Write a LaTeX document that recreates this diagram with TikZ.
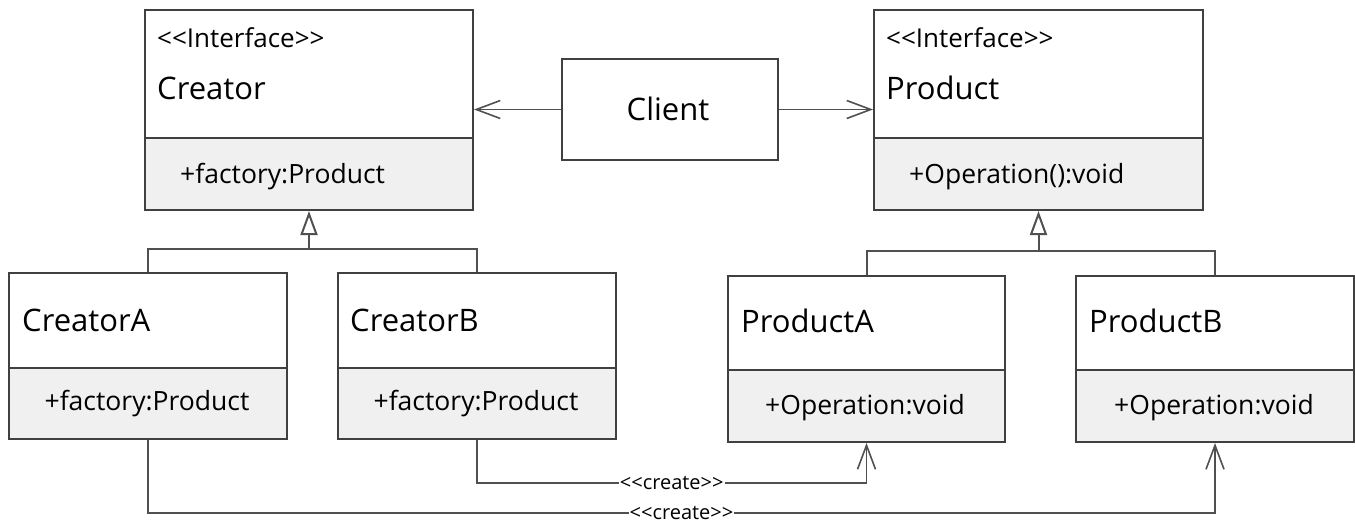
\documentclass[tikz,border=0pt]{standalone}
\usepackage{fontspec}
\setmainfont{Open Sans}
\usetikzlibrary{arrows.meta}
\definecolor{boxgray}{RGB}{64,64,64}
\definecolor{opsgray}{RGB}{240,240,240}
\definecolor{linegray}{RGB}{80,80,80}
\newcommand\stereo[1]{<\kern0pt<#1>\kern0pt>}
\tikzset{
    box/.style={draw=boxgray, line width=2pt, anchor=north west, inner sep=0pt},
    head/.style={box, fill=white},
    ops/.style={box, fill=opsgray},
    bigtxt/.style={font=\fontsize{31}{36}\selectfont, inner sep=0pt, anchor=base west},
    midtxt/.style={font=\fontsize{26.5}{30}\selectfont, inner sep=0pt, anchor=base west},
    smalltxt/.style={font=\fontsize{26}{30}\selectfont, inner sep=0pt, anchor=base west},
    assoc/.style={draw=linegray, line width=1.6pt, -{Straight Barb[length=24pt,width=18pt]}},
    inherit/.style={draw=linegray, line width=2pt},
    lbl/.style={font=\fontsize{20}{24}\selectfont, fill=white, inner sep=1pt}
}
\begin{document}
\begin{tikzpicture}[x=1pt, y=-1pt]
\useasboundingbox (0,0) rectangle (1355,524);
% interfaces
\node[head, minimum width=328, minimum height=128] (creator) at (144,9) {};
\node[ops, minimum width=328, minimum height=72] (creatorOps) at (144,137) {};
\node[head, minimum width=329, minimum height=128] (product) at (873,9) {};
\node[ops, minimum width=329, minimum height=72] (productOps) at (873,137) {};
\node[smalltxt] (creatorSt) at (157,48) {\stereo{Interface}};
\node[bigtxt] (creatorName) at (157,100) {Creator};
\node[midtxt] (creatorFn) at (180,183) {+factory:Product};
\node[smalltxt] (productSt) at (886,48) {\stereo{Interface}};
\node[bigtxt] (productName) at (886,100) {Product};
\node[midtxt] (productFn) at (909,183) {+Operation():void};
% client
\node[head, minimum width=216, minimum height=101] (client) at (561,58) {};
\node[bigtxt, anchor=base] (clientName) at (668,121) {Client};
% concrete classes
\node[head, minimum width=278, minimum height=95] (creatorA) at (8,272) {};
\node[ops, minimum width=278, minimum height=71] (creatorAOps) at (8,367) {};
\node[head, minimum width=278, minimum height=95] (creatorB) at (337,272) {};
\node[ops, minimum width=278, minimum height=71] (creatorBOps) at (337,367) {};
\node[head, minimum width=277, minimum height=94] (productA) at (727,275) {};
\node[ops, minimum width=277, minimum height=72] (productAOps) at (727,369) {};
\node[head, minimum width=278, minimum height=94] (productB) at (1075,275) {};
\node[ops, minimum width=278, minimum height=72] (productBOps) at (1075,369) {};
\node[bigtxt] (creatorAName) at (22,331) {CreatorA};
\node[bigtxt] (creatorBName) at (350,331) {CreatorB};
\node[bigtxt] (productAName) at (741,332) {ProductA};
\node[bigtxt] (productBName) at (1089,332) {ProductB};
\node[midtxt, anchor=base] (creatorAFn) at (147,410) {+factory:Product};
\node[midtxt, anchor=base] (creatorBFn) at (476,410) {+factory:Product};
\node[midtxt, anchor=base] (productAFn) at (865,414) {+Operation:void};
\node[midtxt, anchor=base] (productBFn) at (1214,414) {+Operation:void};
% client associations
\draw[assoc] (client.west) -- (client.west -| creator.east);
\draw[assoc] (client.east) -- (client.east -| product.west);
% inheritance
\coordinate (cj) at (creatorOps.south |- 0,249);
\coordinate (pj) at (productOps.south |- 0,251);
\draw[inherit] (creatorA.north) |- (cj) -| (creatorB.north);
\draw[inherit] (productA.north) |- (pj) -| (productB.north);
\draw[inherit, -{Triangle[open, length=24pt, width=17pt, fill=white]}] (cj) -- (creatorOps.south);
\draw[inherit, -{Triangle[open, length=24pt, width=17pt, fill=white]}] (pj) -- (productOps.south);
% create
\draw[assoc] (creatorBOps.south) -- (creatorBOps.south |- 0,483) -| node[lbl, pos=0.25] {\stereo{create}} (productAOps.south);
\draw[assoc] (creatorAOps.south) -- (creatorAOps.south |- 0,513) -| node[lbl, pos=0.25] {\stereo{create}} (productBOps.south);
\end{tikzpicture}
\end{document}
